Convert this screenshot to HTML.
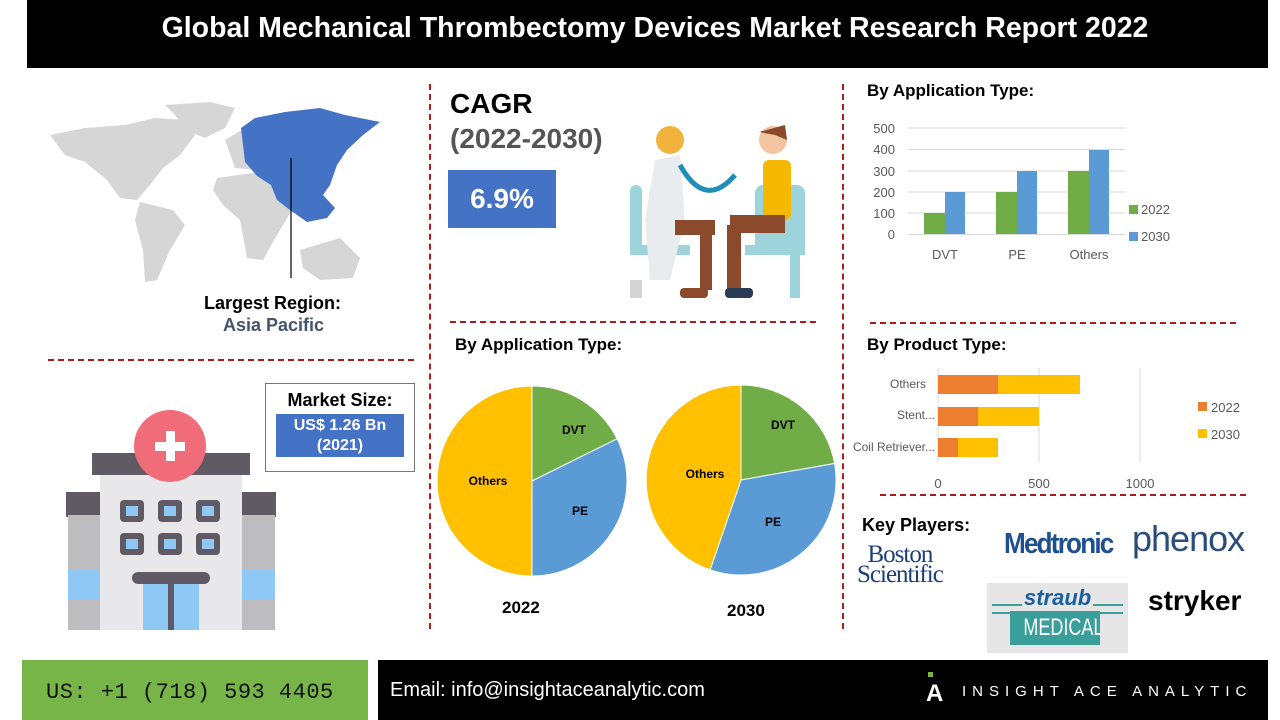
<!DOCTYPE html>
<html><head><meta charset="utf-8"><style>
*{margin:0;padding:0;box-sizing:border-box}
body{width:1280px;height:720px;position:relative;background:#fff;font-family:"Liberation Sans",sans-serif;overflow:hidden}
.a{position:absolute}
.b{font-weight:bold}
.vd{position:absolute;width:0;border-left:2px dashed #b01c1c}
.hd{position:absolute;height:0;border-top:3px dashed #a81c1c}
</style></head><body>
<div class="a" style="left:27px;top:0;width:1241px;height:68px;background:#000"></div>
<div class="a b" style="left:27px;top:12px;width:1256px;text-align:center;color:#fff;font-size:28.5px">Global Mechanical Thrombectomy Devices Market Research Report 2022</div>

<div class="vd" style="left:429px;top:84px;height:545px"></div>
<div class="vd" style="left:842px;top:84px;height:545px"></div>
<div class="hd" style="left:48px;top:359px;width:366px;border-top-width:2px"></div>
<div class="hd" style="left:450px;top:321px;width:366px;border-top-width:2px"></div>
<div class="hd" style="left:870px;top:322px;width:366px;border-top-width:2px"></div>
<div class="hd" style="left:880px;top:494px;width:366px;border-top-width:2px"></div>

<!-- map -->
<svg class="a" style="left:45px;top:100px" width="340" height="190" viewBox="0 0 340 190">
<g fill="#d6d6d6">
<path d="M5 35 L40 28 L80 25 L110 18 L140 20 L150 35 L135 55 L118 68 L105 85 L92 100 L75 98 L62 80 L40 62 L20 55 Z"/>
<path d="M120 5 L165 2 L190 8 L180 28 L160 38 L140 30 L130 15 Z"/>
<path d="M95 102 L128 110 L140 125 L125 150 L112 180 L100 182 L98 150 L90 120 Z"/>
<path d="M180 40 L205 25 L230 28 L235 55 L215 70 L190 68 Z"/>
<path d="M172 78 L215 72 L240 92 L250 105 L232 135 L218 160 L202 158 L195 120 L178 105 L168 90 Z"/>
<path d="M255 150 L295 138 L315 158 L308 178 L275 180 L258 168 Z"/>
</g>
<path fill="#4472c4" d="M196 28 L210 18 L240 12 L275 8 L300 15 L335 22 L318 35 L302 50 L292 65 L285 85 L278 95 L290 108 L282 118 L262 122 L245 110 L232 100 L226 85 L212 76 L200 62 Z"/>
<line x1="246" y1="58" x2="246" y2="178" stroke="#000" stroke-width="1.2"/>
</svg>
<div class="a b" style="left:204px;top:293px;font-size:18px;color:#000">Largest Region:</div>
<div class="a b" style="left:223px;top:315px;font-size:18px;color:#44546a">Asia Pacific</div>

<!-- market size -->
<div class="a" style="left:265px;top:383px;width:150px;height:89px;border:1px solid #777"></div>
<div class="a b" style="left:265px;top:390px;width:150px;text-align:center;font-size:18px">Market Size:</div>
<div class="a b" style="left:276px;top:414px;width:128px;height:43px;background:#4472c4;color:#fff;text-align:center;font-size:16px;line-height:20px;padding-top:2px">US$ 1.26 Bn<br>(2021)</div>

<!-- hospital -->
<svg class="a" style="left:60px;top:390px" width="225" height="245" viewBox="0 0 225 245">
<rect x="6" y="102" width="210" height="25" fill="#5f5a63"/>
<rect x="8" y="125" width="35" height="115" fill="#bdbdc0"/><rect x="180" y="125" width="35" height="115" fill="#bdbdc0"/>
<rect x="8" y="180" width="35" height="30" fill="#90c8f5"/><rect x="180" y="180" width="35" height="30" fill="#90c8f5"/>
<rect x="32" y="63" width="158" height="22" fill="#5f5a63"/>
<rect x="40" y="85" width="142" height="155" fill="#e8e8ea"/>
<g fill="#5f5a63"><rect x="60" y="110" width="24" height="22" rx="4"/><rect x="98" y="110" width="24" height="22" rx="4"/><rect x="136" y="110" width="24" height="22" rx="4"/><rect x="60" y="143" width="24" height="22" rx="4"/><rect x="98" y="143" width="24" height="22" rx="4"/><rect x="136" y="143" width="24" height="22" rx="4"/><rect x="72" y="182" width="78" height="12" rx="6"/></g>
<g fill="#90c8f5"><rect x="66" y="116" width="12" height="10"/><rect x="104" y="116" width="12" height="10"/><rect x="142" y="116" width="12" height="10"/><rect x="66" y="149" width="12" height="10"/><rect x="104" y="149" width="12" height="10"/><rect x="142" y="149" width="12" height="10"/></g>
<rect x="83" y="194" width="56" height="46" fill="#90c8f5"/><rect x="108" y="194" width="6" height="46" fill="#5f5a63"/>
<circle cx="110" cy="56" r="36" fill="#f06c78"/>
<rect x="95" y="52" width="30" height="9" fill="#fff"/><rect x="106" y="41" width="9" height="30" fill="#fff"/>
</svg>

<!-- CAGR -->
<div class="a b" style="left:450px;top:88px;font-size:28px">CAGR</div>
<div class="a b" style="left:450px;top:123px;font-size:28px;color:#555">(2022-2030)</div>
<div class="a b" style="left:448px;top:170px;width:108px;height:58px;background:#4472c4;color:#fff;font-size:28px;text-align:center;line-height:58px">6.9%</div>

<!-- doctor -->
<svg class="a" style="left:625px;top:120px" width="185" height="180" viewBox="0 0 185 180">
<rect x="5" y="65" width="12" height="70" rx="6" fill="#9dd4dc"/>
<rect x="130" y="65" width="50" height="70" rx="8" fill="#9dd4dc"/>
<rect x="5" y="125" width="60" height="10" fill="#9dd4dc"/>
<rect x="120" y="125" width="60" height="10" fill="#9dd4dc"/>
<path d="M30 40 L55 35 L60 100 L45 160 L25 160 L20 100 Z" fill="#e9ecef"/>
<circle cx="45" cy="20" r="14" fill="#f2b33d"/>
<rect x="50" y="100" width="40" height="15" fill="#8a4a2b"/>
<rect x="75" y="110" width="12" height="60" fill="#8a4a2b"/>
<path d="M55 45 Q80 90 110 55" stroke="#1f8fb8" stroke-width="5" fill="none"/>
<circle cx="148" cy="20" r="14" fill="#f2c4a0"/><path d="M134 12 L160 5 L162 20 L150 15 Z" fill="#8a4a2b"/>
<rect x="138" y="40" width="28" height="60" rx="6" fill="#f5b800"/>
<rect x="105" y="95" width="55" height="18" fill="#8a4a2b"/>
<rect x="102" y="105" width="14" height="65" fill="#8a4a2b"/>
<rect x="100" y="168" width="28" height="10" rx="4" fill="#2b3a55"/>
<rect x="55" y="168" width="28" height="10" rx="4" fill="#8a4a2b"/>
<rect x="5" y="160" width="12" height="18" fill="#d4d4d4"/><rect x="165" y="135" width="10" height="43" fill="#9dd4dc"/>
</svg>

<!-- pies -->
<div class="a b" style="left:455px;top:335px;font-size:17px">By Application Type:</div>
<svg class="a" style="left:430px;top:370px" width="420" height="220">
<g transform="translate(102,111)">
<path d="M0 0 L0 -95 A95 95 0 0 1 85.1 -42.2 Z" fill="#70ad47" stroke="#fff"/>
<path d="M0 0 L85.1 -42.2 A95 95 0 0 1 0 95 Z" fill="#5b9bd5" stroke="#fff"/>
<path d="M0 0 L0 95 A95 95 0 0 1 0 -95 Z" fill="#ffc000" stroke="#fff"/>
<text x="42" y="-47" font-size="12" font-weight="bold" font-family="Liberation Sans" text-anchor="middle">DVT</text>
<text x="48" y="34" font-size="12" font-weight="bold" font-family="Liberation Sans" text-anchor="middle">PE</text>
<text x="-44" y="4" font-size="12" font-weight="bold" font-family="Liberation Sans" text-anchor="middle">Others</text>
</g>
<g transform="translate(311,110)">
<path d="M0 0 L0 -95 A95 95 0 0 1 93.6 -16.5 Z" fill="#70ad47" stroke="#fff"/>
<path d="M0 0 L93.6 -16.5 A95 95 0 0 1 -30.9 89.8 Z" fill="#5b9bd5" stroke="#fff"/>
<path d="M0 0 L-30.9 89.8 A95 95 0 0 1 0 -95 Z" fill="#ffc000" stroke="#fff"/>
<text x="42" y="-51" font-size="12" font-weight="bold" font-family="Liberation Sans" text-anchor="middle">DVT</text>
<text x="32" y="46" font-size="12" font-weight="bold" font-family="Liberation Sans" text-anchor="middle">PE</text>
<text x="-36" y="-2" font-size="12" font-weight="bold" font-family="Liberation Sans" text-anchor="middle">Others</text>
</g>
</svg>
<div class="a b" style="left:502px;top:598px;font-size:17px">2022</div>
<div class="a b" style="left:727px;top:601px;font-size:17px">2030</div>

<!-- bar chart 1 -->
<div class="a b" style="left:867px;top:81px;font-size:17px">By Application Type:</div>
<svg class="a" style="left:860px;top:115px" width="320" height="160" font-family="Liberation Sans" font-size="13" fill="#595959">
<g stroke="#d9d9d9"><line x1="48" y1="13" x2="265" y2="13"/><line x1="48" y1="34.5" x2="265" y2="34.5"/><line x1="48" y1="56" x2="265" y2="56"/><line x1="48" y1="77" x2="265" y2="77"/><line x1="48" y1="98" x2="265" y2="98"/><line x1="48" y1="119.5" x2="265" y2="119.5"/></g>
<g text-anchor="end"><text x="35" y="18">500</text><text x="35" y="39">400</text><text x="35" y="61">300</text><text x="35" y="82">200</text><text x="35" y="103">100</text><text x="35" y="124">0</text></g>
<g fill="#70ad47"><rect x="64" y="98" width="21" height="21"/><rect x="136" y="77" width="21" height="42"/><rect x="208" y="56" width="21" height="63"/></g>
<g fill="#5b9bd5"><rect x="85" y="77" width="20" height="42"/><rect x="157" y="56" width="20" height="63"/><rect x="229" y="35" width="20" height="84"/></g>
<g text-anchor="middle"><text x="85" y="144">DVT</text><text x="157" y="144">PE</text><text x="229" y="144">Others</text></g>
<rect x="269" y="90" width="9" height="9" fill="#70ad47"/><text x="281" y="99">2022</text>
<rect x="269" y="117" width="9" height="9" fill="#5b9bd5"/><text x="281" y="126">2030</text>
</svg>

<!-- bar chart 2 -->
<div class="a b" style="left:867px;top:335px;font-size:17px">By Product Type:</div>
<svg class="a" style="left:840px;top:365px" width="440" height="130" font-family="Liberation Sans" font-size="12" fill="#595959">
<g stroke="#d9d9d9"><line x1="98" y1="3" x2="98" y2="97"/><line x1="199" y1="3" x2="199" y2="97"/><line x1="300" y1="3" x2="300" y2="97"/></g>
<rect x="98" y="10" width="60" height="19" fill="#ed7d31"/><rect x="158" y="10" width="82" height="19" fill="#ffc000"/>
<rect x="98" y="42" width="40" height="19" fill="#ed7d31"/><rect x="138" y="42" width="61" height="19" fill="#ffc000"/>
<rect x="98" y="73" width="20" height="19" fill="#ed7d31"/><rect x="118" y="73" width="40" height="19" fill="#ffc000"/>
<g text-anchor="end"><text x="86" y="23">Others</text><text x="95" y="54">Stent...</text><text x="95" y="86">Coil Retriever...</text></g>
<g text-anchor="middle" font-size="13"><text x="98" y="123">0</text><text x="199" y="123">500</text><text x="300" y="123">1000</text></g>
<rect x="358" y="37" width="9" height="9" fill="#ed7d31"/><text x="371" y="47" font-size="13">2022</text>
<rect x="358" y="64" width="9" height="9" fill="#ffc000"/><text x="371" y="74" font-size="13">2030</text>
</svg>

<!-- key players -->
<div class="a b" style="left:862px;top:515px;font-size:18px">Key Players:</div>
<div class="a" style="left:857px;top:545px;font-family:'Liberation Serif',serif;color:#1c3f7a;font-size:25px;line-height:20px;letter-spacing:-1px">&nbsp;&nbsp;Boston<br>Scientific</div>
<div class="a b" style="left:1004px;top:528px;font-size:29px;color:#1f4f91;letter-spacing:-2px;transform:scaleX(0.9);transform-origin:left">Medtronic</div>
<div class="a" style="left:1132px;top:518px;font-size:36px;color:#2a4d7a;letter-spacing:-1px">phenox</div>
<div class="a" style="left:987px;top:583px;width:141px;height:70px;background:#e6e6e6"></div>
<div class="a" style="left:992px;top:604px;width:131px;height:2px;background:#3a9e9a"></div>
<div class="a" style="left:992px;top:612px;width:131px;height:2px;background:#3a9e9a"></div>
<div class="a b" style="left:1022px;top:585px;font-size:22px;font-style:italic;color:#1a5fa0;background:#e6e6e6;padding:0 2px">straub</div>
<div class="a" style="left:1010px;top:611px;width:90px;height:34px;background:#3a9e9a;color:#fff;font-size:24px;text-align:center;line-height:34px;overflow:hidden"><span style="display:inline-block;transform:scaleX(0.75)">MEDICAL</span></div>
<div class="a b" style="left:1148px;top:585px;font-size:28px;color:#000">stryker</div>

<!-- footer -->
<div class="a" style="left:22px;top:660px;width:346px;height:60px;background:#77b548"></div>
<div class="a" style="left:46px;top:680px;font-family:'Liberation Mono',monospace;font-size:22px;color:#111;letter-spacing:0.5px">US: +1 (718) 593 4405</div>
<div class="a" style="left:378px;top:660px;width:890px;height:60px;background:#000"></div>
<div class="a" style="left:390px;top:679px;font-size:20px;color:#fff">Email: info@insightaceanalytic.com</div>
<div class="a" style="left:928px;top:672px;width:5px;height:5px;background:#77b548"></div>
<div class="a b" style="left:926px;top:680px;font-size:24px;color:#fff">A</div>
<div class="a" style="left:962px;top:683px;font-size:15px;color:#fff;letter-spacing:6px">INSIGHT ACE ANALYTIC</div>
</body></html>
